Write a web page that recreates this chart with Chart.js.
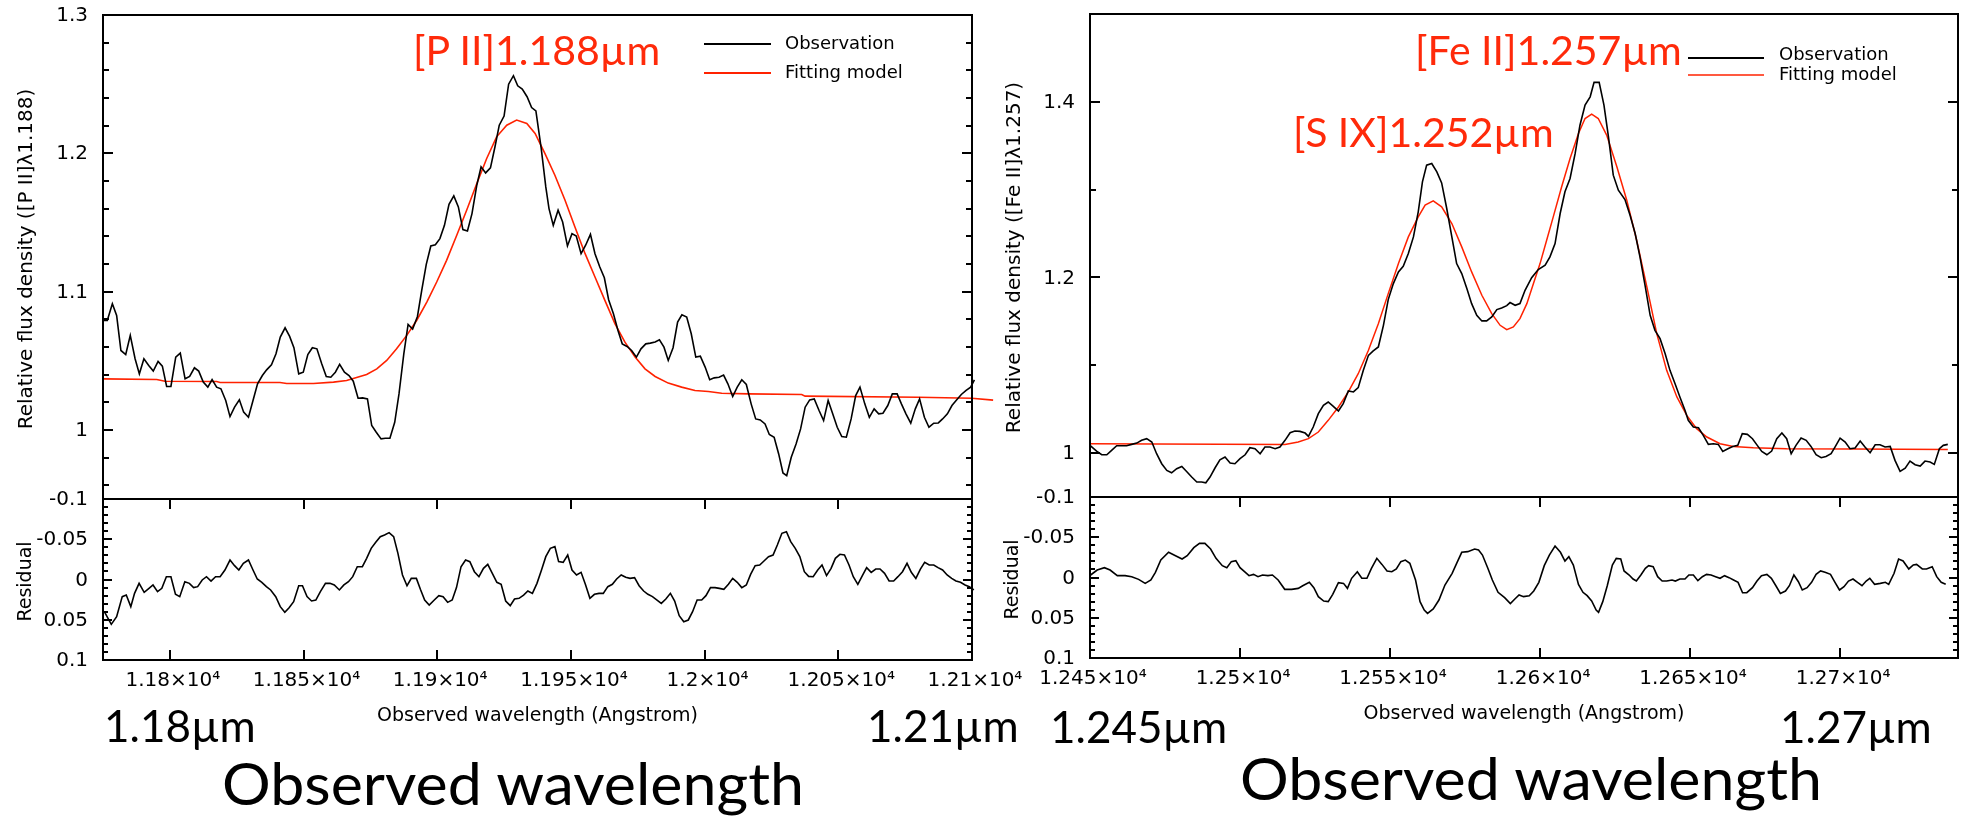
<!DOCTYPE html>
<html>
<head>
<meta charset="utf-8">
<script src="https://cdn.jsdelivr.net/npm/chart.js@4.4.1/dist/chart.umd.min.js"></script>
<style>
  html, body { margin: 0; padding: 0; background: #fff; }
  #page { position: relative; width: 1968px; height: 819px; overflow: hidden; background: #fff; }
  #page canvas { position: absolute; left: 0; top: 0; }
  .txt { position: absolute; margin: 0; white-space: nowrap; line-height: 1.2;
         font-family: Lato, "Open Sans", sans-serif; color: #000; transform-origin: 0 0; }
  .line-id { font-size: 41px; color: #ff2a0a; }
  .um { font-size: 44px; }
  .wl { font-size: 58px; transform: scaleX(1.05); }
</style>
</head>
<body>
<div id="page">
  <canvas id="leftMain" width="1968" height="819"></canvas>
  <canvas id="leftRes" width="1968" height="819"></canvas>
  <canvas id="rightMain" width="1968" height="819"></canvas>
  <canvas id="rightRes" width="1968" height="819"></canvas>

  <div class="txt line-id" style="left:413px; top:25px;">[P II]1.188µm</div>
  <div class="txt line-id" style="left:1415px; top:25px;">[Fe II]1.257µm</div>
  <div class="txt line-id" style="left:1293px; top:107px;">[S IX]1.252µm</div>

  <div class="txt um" style="left:104px; top:699px;">1.18µm</div>
  <div class="txt um" style="left:867px; top:699px;">1.21µm</div>
  <div class="txt um" style="left:1050px; top:700px;">1.245µm</div>
  <div class="txt um" style="left:1780px; top:700px;">1.27µm</div>
  <div class="txt wl" style="left:222px; top:748px;">Observed wavelength</div>
  <div class="txt wl" style="left:1240px; top:743px;">Observed wavelength</div>
</div>

<script>
// ---- [P II] 1.188um panel (wavelength in Angstrom, relative flux) ----
const leftObsWave = [11775.1,11776.6,11778.5,11780.1,11781.7,11783.5,11785.2,11787.0,11788.6,11790.3,
  11792.1,11793.8,11795.6,11797.2,11798.8,11800.4,11802.2,11803.9,11805.7,11807.4,
  11809.2,11810.8,11812.5,11814.2,11815.8,11817.5,11819.1,11820.9,11822.5,11824.2,
  11826.0,11827.6,11829.4,11831.1,11832.8,11834.6,11836.2,11838.0,11839.7,11841.3,
  11843.1,11844.8,11846.4,11848.2,11849.9,11851.6,11853.3,11855.0,11856.8,11858.5,
  11860.2,11861.9,11863.5,11865.3,11867.0,11868.6,11870.4,11872.1,11873.9,11875.5,
  11877.2,11879.0,11880.6,11882.3,11884.1,11885.7,11887.5,11889.1,11890.8,11892.6,
  11894.2,11895.9,11897.6,11899.3,11901.0,11902.7,11904.4,11906.2,11907.9,11909.6,
  11911.3,11913.0,11914.8,11916.4,11918.1,11919.9,11921.6,11923.2,11925.0,11926.7,
  11928.5,11930.1,11931.8,11933.6,11935.3,11936.9,
  11938.9,11940.6,11941.8,11943.4,11945.2,11946.9,11948.7,11950.4,11952.0,11953.8,
  11955.5,11957.3,11959.0,11960.8,11962.5,11964.1,11965.9,11967.6,11969.2,11971.0,
  11972.7,11974.5,11976.2,11978.0,11979.7,11981.5,11983.1,11984.8,11986.4,11988.2,
  11989.9,11991.5,11993.3,11995.0,11996.7,11998.4,12000.2,12001.9,12003.6,12005.4,
  12007.1,12008.7,12010.5,12012.2,12013.9,12015.6,12017.4,12019.1,12020.8,12022.6,
  12024.2,12026.0,12027.7,12029.3,12030.7,12032.4,12034.2,12035.9,12037.6,12039.3,
  12041.0,12042.8,12044.5,12046.2,12047.9,12049.6,12051.3,12053.0,12054.8,12056.5,
  12058.1,12059.9,12061.6,12063.4,12065.1,12066.7,12068.5,12070.2,12072.0,12073.6,
  12075.3,12077.1,12078.8,12080.4,12082.2,12083.9,12085.7,12087.4,12089.0,12090.8,
  12092.5,12094.3,12096.0,12097.8,12099.5,12100.9,12104.0,12106.0,12107.9];
const leftObsFlux = [1.0791,1.0791,1.0912,1.0828,1.0574,1.0545,1.0683,1.0514,1.0405,1.0514,
  1.0466,1.0425,1.0495,1.0461,1.0314,1.0314,1.0526,1.0555,1.0369,1.0386,
  1.0449,1.0425,1.0345,1.0309,1.0364,1.0309,1.0297,1.0212,1.0096,1.0164,
  1.0217,1.0128,1.0091,1.0212,1.0333,1.0393,1.0434,1.0470,1.0550,1.0671,
  1.0738,1.0676,1.0594,1.0405,1.0417,1.0545,1.0594,1.0586,1.0478,1.0386,
  1.0381,1.0417,1.0473,1.0417,1.0393,1.0352,1.0229,1.0231,1.0224,1.0031,
  0.9983,0.9935,0.9939,0.9939,1.0055,1.0260,1.0550,1.0762,1.0729,1.0820,
  1.1009,1.1197,1.1330,1.1339,1.1383,1.1479,1.1631,1.1692,1.1612,1.1448,
  1.1438,1.1564,1.1769,1.1902,1.1858,1.1895,1.2047,1.2203,1.2269,1.2500,
  1.2561,1.2488,1.2464,1.2409,1.2331,1.2307,
  1.2034,1.1757,1.1600,1.1479,1.1588,1.1503,1.1330,1.1419,1.1402,1.1274,
  1.1335,1.1414,1.1274,1.1178,1.1100,1.0941,1.0840,1.0719,1.0622,1.0603,
  1.0574,1.0526,1.0586,1.0622,1.0627,1.0635,1.0651,1.0598,1.0502,1.0594,
  1.0779,1.0832,1.0816,1.0695,1.0526,1.0533,1.0454,1.0362,1.0376,1.0381,
  1.0396,1.0333,1.0241,1.0309,1.0362,1.0328,1.0188,1.0079,1.0072,1.0043,
  0.9966,0.9947,0.9826,0.9688,0.9669,0.9802,0.9898,1.0007,1.0164,1.0217,
  1.0224,1.0140,1.0067,1.0212,1.0116,1.0019,0.9951,0.9947,1.0079,1.0248,
  1.0309,1.0188,1.0091,1.0152,1.0116,1.0120,1.0176,1.0260,1.0260,1.0188,
  1.0116,1.0048,1.0152,1.0224,1.0091,1.0019,1.0048,1.0050,1.0079,1.0116,
  1.0176,1.0217,1.0256,1.0285,1.0309,1.0362,1.0261,1.0345,1.0372];

const leftFitWave = [11775.1,11795.1,11798.2,11817.5,11818.8,11841.2,11843.7,11853.7,11861.2,11866.1,
  11871.1,11873.6,11877.4,11881.1,11884.8,11888.6,11892.3,11896.1,11899.8,11903.5,
  11907.3,11911.0,11914.8,11918.5,11922.2,11926.0,11929.7,11933.5,11936.6,11940.3,
  11944.0,11947.8,11951.5,11955.3,11959.0,11962.7,11966.5,11970.2,11974.0,11977.7,
  11981.5,11986.4,11991.4,11996.4,12001.4,12006.4,12016.4,12036.3,12037.6,12079.9,
  12099.9,12107.9];
const leftFitFlux = [1.0369,1.0364,1.0352,1.0350,1.0342,1.0342,1.0335,1.0335,1.0345,1.0357,
  1.0386,1.0400,1.0441,1.0502,1.0586,1.0683,1.0791,1.0924,1.1069,1.1226,
  1.1407,1.1588,1.1781,1.1962,1.2119,1.2203,1.2240,1.2216,1.2143,1.1998,
  1.1841,1.1660,1.1467,1.1274,1.1105,1.0936,1.0767,1.0634,1.0526,1.0441,
  1.0386,1.0338,1.0309,1.0285,1.0277,1.0265,1.0260,1.0256,1.0244,1.0236,
  1.0229,1.0215];

const leftResWave = [11775.5,11778.1,11780.1,11782.2,11783.7,11785.4,11786.8,11788.5,11790.4,11792.2,
  11793.7,11795.4,11797.0,11798.7,11800.4,11802.1,11803.7,11805.6,11807.3,11808.9,
  11810.4,11812.1,11813.7,11815.4,11817.1,11818.8,11820.6,11822.5,11824.2,11825.8,
  11827.5,11829.4,11831.1,11832.7,11834.4,11836.1,11837.7,11839.6,11841.3,11843.0,
  11844.6,11846.3,11848.2,11849.6,11851.3,11853.0,11854.6,11856.3,11858.2,11859.9,
  11861.5,11863.4,11865.1,11866.8,11868.4,11870.1,11872.0,11873.6,11875.3,11877.0,
  11878.7,11880.3,11882.0,11883.7,11885.3,11887.0,11888.7,11890.3,11892.2,11893.7,
  11895.3,11897.0,11898.9,11900.6,11902.2,11903.9,11905.6,11907.2,11908.9,11910.6,
  11912.2,11913.9,11915.6,11917.3,11918.9,11920.6,11922.3,11923.9,11925.6,11927.3,
  11928.9,11930.6,11932.3,11933.9,11935.6,11937.3,11939.0,11940.6,11942.3,11944.0,
  11945.4,11947.1,11948.8,11950.4,11952.1,11953.8,11955.4,11957.1,11958.8,11960.5,
  11962.1,11963.8,11965.5,11967.1,11968.8,11970.5,11972.1,11973.8,11975.5,11977.2,
  11978.8,11980.5,11982.2,11983.8,11985.5,11987.2,11988.8,11990.5,11992.2,11993.9,
  11995.5,11997.2,11998.9,12000.5,12002.2,12003.9,12005.5,12007.2,12008.9,12010.5,
  12012.2,12013.9,12015.6,12017.2,12018.9,12020.6,12022.2,12023.9,12025.6,12027.2,
  12028.9,12030.6,12032.2,12033.9,12035.6,12037.3,12038.9,12040.6,12042.3,12043.9,
  12045.6,12047.3,12048.9,12050.6,12052.3,12054.0,12055.6,12057.3,12059.0,12060.6,
  12062.3,12064.0,12065.6,12067.3,12069.0,12070.7,12072.3,12074.0,12075.7,12077.3,
  12079.0,12080.7,12082.3,12084.0,12085.7,12087.3,12089.0,12090.7,12092.4,12094.0,
  12095.7,12097.4,12099.0,12100.7,12103.7,12107.3];
const leftResVal = [0.0400,0.0557,0.0462,0.0213,0.0193,0.0337,0.0172,0.0048,0.0159,0.0110,
  0.0068,0.0151,0.0110,-0.0035,-0.0035,0.0184,0.0213,0.0027,0.0048,0.0101,
  0.0089,0.0006,-0.0035,0.0019,-0.0035,-0.0035,-0.0118,-0.0242,-0.0172,-0.0118,
  -0.0201,-0.0242,-0.0118,-0.0006,0.0035,0.0089,0.0130,0.0213,0.0337,0.0408,
  0.0350,0.0275,0.0077,0.0077,0.0213,0.0267,0.0255,0.0151,0.0048,0.0048,
  0.0068,0.0130,0.0068,0.0027,-0.0035,-0.0159,-0.0159,-0.0263,-0.0387,-0.0462,
  -0.0532,-0.0553,-0.0582,-0.0532,-0.0325,-0.0056,0.0077,-0.0014,-0.0014,0.0122,
  0.0255,0.0317,0.0255,0.0201,0.0213,0.0284,0.0255,0.0101,-0.0159,-0.0242,
  -0.0222,-0.0097,-0.0035,-0.0139,-0.0188,-0.0077,0.0035,0.0060,0.0267,0.0325,
  0.0242,0.0234,0.0193,0.0143,0.0172,0.0048,-0.0118,-0.0284,-0.0387,-0.0408,
  -0.0222,-0.0213,-0.0304,-0.0118,-0.0056,-0.0089,0.0060,0.0234,0.0184,0.0172,
  0.0172,0.0089,0.0060,-0.0006,-0.0056,-0.0027,-0.0014,-0.0023,0.0077,0.0143,
  0.0184,0.0213,0.0255,0.0296,0.0242,0.0172,0.0267,0.0449,0.0524,0.0503,
  0.0400,0.0255,0.0255,0.0201,0.0101,0.0101,0.0110,0.0122,0.0060,-0.0014,
  0.0035,0.0101,0.0068,-0.0064,-0.0172,-0.0180,-0.0230,-0.0284,-0.0304,-0.0429,
  -0.0574,-0.0594,-0.0470,-0.0387,-0.0284,-0.0097,-0.0039,-0.0035,-0.0118,-0.0180,
  -0.0048,-0.0139,-0.0263,-0.0313,-0.0304,-0.0180,-0.0035,0.0060,-0.0048,-0.0147,
  -0.0089,-0.0130,-0.0130,-0.0077,0.0019,0.0019,-0.0035,-0.0097,-0.0201,-0.0089,
  -0.0014,-0.0130,-0.0213,-0.0180,-0.0180,-0.0147,-0.0118,-0.0056,-0.0014,0.0019,
  0.0035,0.0068,0.0089,0.0130,0.0027,0.0130];

// ---- [Fe II] 1.257um / [S IX] 1.252um panel ----
const rightObsWave = [12450.0,12452.2,12453.9,12455.6,12457.2,12458.9,12460.6,12462.2,12463.9,12465.6,
  12467.2,12468.9,12470.6,12472.2,12473.9,12475.6,12477.2,12478.9,12480.6,12482.2,
  12483.9,12485.6,12487.2,12488.6,12490.0,12491.7,12493.3,12495.0,12496.7,12498.3,
  12500.0,12501.7,12503.3,12505.0,12506.7,12508.3,12510.0,12511.7,12513.3,12515.0,
  12516.7,12518.3,12520.0,12521.7,12522.8,12524.4,12526.1,12527.8,12529.4,12531.1,
  12532.8,12534.4,12536.1,12537.8,12539.4,12541.1,12542.8,12544.4,12546.1,12547.8,
  12549.4,12551.1,12552.8,12554.4,12556.1,12557.8,12559.4,12560.8,12562.2,12563.9,
  12565.6,12567.2,12568.9,12570.6,12572.2,12573.9,12575.6,12577.2,12578.9,12580.6,
  12582.2,12583.9,12585.6,12587.2,12588.9,12590.0,12591.7,12593.3,12595.0,
  12597.2,12599.4,12601.7,12603.3,12605.0,12606.7,12608.3,12610.0,12611.7,12613.3,
  12615.0,12616.7,12618.0,12619.7,12621.3,12622.8,12624.4,12626.1,12628.3,12630.0,
  12631.7,12633.3,12635.0,12636.7,12638.3,12640.0,12641.7,12643.3,12645.0,12646.7,
  12648.3,12649.4,12651.1,12652.8,12654.4,12656.1,12657.8,12659.4,12660.9,12662.6,
  12664.2,12665.9,12667.4,12669.1,12670.8,12672.4,12673.9,12675.6,12677.2,12678.9,
  12680.6,12682.2,12683.7,12685.3,12687.0,12688.7,12690.3,12692.0,12693.7,12695.3,
  12697.0,12698.3,12700.0,12701.7,12703.3,12705.0,12706.7,12708.3,12710.0,12711.7,
  12713.3,12715.0,12716.7,12718.3,12720.0,12721.7,12723.3,12725.0,12726.7,12728.3,
  12730.0,12731.4,12733.1,12734.4,12735.9];
const rightObsFlux = [1.0088,1.0023,0.9981,0.9981,1.0031,1.0084,1.0084,1.0084,1.0099,1.0114,
  1.0145,1.0164,1.0126,0.9993,0.9879,0.9803,0.9776,0.9822,0.9848,0.9791,
  0.9727,0.9670,0.9670,0.9662,0.9727,0.9833,0.9924,0.9955,0.9886,0.9879,
  0.9936,0.9981,1.0061,1.0050,0.9993,1.0069,1.0069,1.0050,1.0069,1.0145,
  1.0232,1.0251,1.0247,1.0228,1.0190,1.0297,1.0449,1.0544,1.0582,1.0532,
  1.0479,1.0563,1.0707,1.0696,1.0745,1.0942,1.1113,1.1163,1.1208,1.1455,
  1.1748,1.1930,1.2063,1.2128,1.2272,1.2462,1.2747,1.3089,1.3279,1.3298,
  1.3203,1.3077,1.2785,1.2462,1.2158,1.2044,1.1873,1.1702,1.1569,1.1505,
  1.1505,1.1550,1.1634,1.1653,1.1679,1.1714,1.1683,1.1702,1.1854,
  1.1998,1.2090,1.2139,1.2234,1.2386,1.2728,1.2975,1.3127,1.3412,1.3734,
  1.3962,1.4057,1.4221,1.4221,1.3962,1.3602,1.3165,1.2994,1.2887,1.2709,
  1.2500,1.2234,1.1911,1.1569,1.1398,1.1303,1.1132,1.0942,1.0790,1.0631,
  1.0487,1.0373,1.0297,1.0289,1.0202,1.0099,1.0107,1.0099,1.0019,1.0050,
  1.0076,1.0088,1.0221,1.0213,1.0164,1.0088,1.0019,0.9981,1.0023,1.0164,
  1.0228,1.0164,0.9993,1.0088,1.0171,1.0145,1.0076,0.9981,0.9947,0.9962,
  0.9993,1.0069,1.0171,1.0126,1.0050,1.0057,1.0137,1.0069,1.0004,1.0095,
  1.0095,1.0069,1.0076,0.9917,0.9791,0.9829,0.9909,0.9867,0.9852,0.9909,
  0.9898,0.9871,1.0050,1.0088,1.0099];

const rightFitWave = [12450.0,12515.0,12519.4,12522.8,12526.1,12529.4,12532.8,12536.1,12539.4,12542.8,
  12546.1,12549.4,12552.8,12556.1,12559.4,12561.7,12564.4,12567.2,12570.6,12573.9,
  12577.2,12580.6,12583.9,12586.7,12588.9,12591.1,12593.3,12595.6,12597.8,12600.0,
  12602.2,12604.4,12607.2,12610.0,12612.8,12615.0,12617.2,12619.4,12622.2,12625.6,
  12628.9,12632.2,12635.6,12638.9,12642.2,12645.6,12648.9,12652.2,12655.6,12660.0,
  12664.4,12671.1,12682.2,12704.4,12735.9];
const rightFitFlux = [1.0107,1.0099,1.0126,1.0164,1.0240,1.0373,1.0525,1.0696,1.0904,1.1170,
  1.1474,1.1816,1.2158,1.2462,1.2690,1.2823,1.2872,1.2804,1.2614,1.2348,
  1.2063,1.1797,1.1588,1.1455,1.1406,1.1436,1.1531,1.1702,1.1930,1.2158,
  1.2424,1.2690,1.3032,1.3355,1.3640,1.3810,1.3860,1.3810,1.3621,1.3260,
  1.2880,1.2424,1.1892,1.1360,1.0942,1.0639,1.0430,1.0278,1.0183,1.0107,
  1.0076,1.0061,1.0050,1.0046,1.0042];

const rightResWave = [12450.2,12452.4,12454.8,12456.7,12459.1,12461.7,12463.9,12466.2,12468.4,12470.3,
  12471.8,12473.6,12476.2,12478.5,12480.7,12482.4,12484.6,12486.5,12488.3,12490.2,
  12492.0,12494.1,12495.6,12497.1,12498.6,12500.0,12501.5,12503.0,12504.5,12506.0,
  12507.5,12509.3,12510.8,12512.7,12514.9,12517.2,12519.4,12520.9,12523.1,12524.6,
  12526.1,12527.9,12529.4,12530.9,12532.8,12534.5,12535.8,12537.2,12539.1,12540.6,
  12542.3,12543.8,12545.6,12547.3,12549.0,12550.6,12552.1,12553.6,12555.1,12556.6,
  12558.5,12560.0,12561.4,12562.5,12564.4,12566.3,12568.3,12570.7,12572.2,12573.9,
  12575.9,12578.2,12579.5,12580.8,12582.6,12584.1,12586.0,12588.2,12590.1,12591.6,
  12593.0,12594.5,12596.4,12597.9,12599.6,12601.4,12603.1,12605.0,12606.8,12608.3,
  12609.6,12611.1,12612.8,12614.3,12615.7,12617.2,12618.7,12619.5,12620.9,12622.4,
  12624.1,12625.4,12626.9,12628.0,12629.7,12631.0,12632.1,12633.6,12635.1,12636.2,
  12637.7,12639.2,12640.7,12642.2,12644.0,12645.1,12646.6,12648.3,12649.6,12651.1,
  12652.6,12654.1,12655.5,12657.0,12658.5,12660.0,12661.5,12663.0,12664.5,12666.0,
  12667.5,12668.9,12670.8,12672.3,12673.8,12675.6,12677.1,12678.6,12680.1,12681.8,
  12683.1,12684.6,12686.1,12687.4,12689.0,12690.5,12692.0,12693.5,12695.0,12696.8,
  12698.3,12699.8,12701.3,12702.8,12704.3,12705.8,12707.3,12708.7,12709.9,12711.5,
  12713.4,12715.1,12716.2,12718.0,12719.5,12721.0,12722.9,12724.4,12725.5,12727.4,
  12728.8,12730.7,12732.2,12733.7,12735.2];
const rightResVal = [-0.0031,-0.0093,-0.0122,-0.0093,-0.0023,-0.0023,-0.0010,0.0023,0.0073,0.0031,
  -0.0064,-0.0217,-0.0313,-0.0271,-0.0230,-0.0271,-0.0371,-0.0424,-0.0424,-0.0354,
  -0.0238,-0.0147,-0.0122,-0.0197,-0.0209,-0.0122,-0.0072,-0.0023,-0.0039,-0.0010,
  -0.0031,-0.0023,-0.0031,0.0031,0.0147,0.0147,0.0135,0.0102,0.0060,0.0126,
  0.0238,0.0292,0.0300,0.0209,0.0064,0.0073,0.0135,0.0010,-0.0072,0.0010,
  0.0010,-0.0114,-0.0238,-0.0163,-0.0081,-0.0072,-0.0106,-0.0197,-0.0217,-0.0176,
  0.0031,0.0300,0.0404,0.0445,0.0391,0.0280,0.0093,-0.0052,-0.0176,-0.0313,
  -0.0321,-0.0354,-0.0342,-0.0279,-0.0114,0.0031,0.0184,0.0251,0.0325,0.0267,
  0.0217,0.0238,0.0226,0.0168,0.0060,-0.0147,-0.0279,-0.0391,-0.0313,-0.0205,
  -0.0259,-0.0155,0.0085,0.0184,0.0226,0.0292,0.0404,0.0433,0.0300,0.0102,
  -0.0155,-0.0238,-0.0230,-0.0081,-0.0031,0.0019,0.0044,-0.0031,-0.0114,-0.0147,
  -0.0134,-0.0010,0.0044,0.0044,0.0031,0.0044,0.0019,0.0019,-0.0031,-0.0031,
  0.0039,-0.0010,-0.0039,-0.0031,-0.0010,0.0010,-0.0023,0.0002,0.0031,0.0060,
  0.0189,0.0189,0.0126,0.0044,-0.0023,-0.0039,0.0010,0.0102,0.0197,0.0168,
  0.0102,-0.0031,0.0052,0.0155,0.0126,0.0060,-0.0039,-0.0081,-0.0064,-0.0039,
  0.0060,0.0155,0.0114,0.0044,0.0019,0.0060,0.0102,0.0044,0.0010,0.0085,
  0.0073,0.0060,0.0085,-0.0052,-0.0230,-0.0205,-0.0106,-0.0155,-0.0163,-0.0106,
  -0.0106,-0.0134,-0.0010,0.0060,0.0085];

// ---- axis ticks and labels ----
const leftFluxMinor = [0.96,0.98,1.02,1.04,1.06,1.08,1.12,1.14,1.16,1.18,1.22,1.24,1.26,1.28];
const leftFluxMajor = [1.0,1.1,1.2];
const leftFluxLabelVals = [1.0,1.1,1.2,1.3];
const leftFluxLabels = ['1','1.1','1.2','1.3'];

const rightFluxMinor = [1.1,1.3];
const rightFluxMajor = [1.0,1.2,1.4];
const rightFluxLabelVals = [1.0,1.2,1.4];
const rightFluxLabels = ['1','1.2','1.4'];

const resMinor = [-0.09,-0.08,-0.07,-0.06,-0.04,-0.03,-0.02,-0.01,0.01,0.02,0.03,0.04,0.06,0.07,0.08,0.09];
const resMajor = [-0.05,0,0.05];
const resLabelVals = [-0.1,-0.05,0,0.05,0.1];
const resLabels = ['-0.1','-0.05','0','0.05','0.1'];

const leftWaveTicks = [11800,11850,11900,11950,12000,12050,12100];
const leftWaveLabels = ['1.18×10⁴','1.185×10⁴','1.19×10⁴','1.195×10⁴','1.2×10⁴','1.205×10⁴','1.21×10⁴'];
const rightWaveTicks = [12450,12500,12550,12600,12650,12700];
const rightWaveLabels = ['1.245×10⁴','1.25×10⁴','1.255×10⁴','1.26×10⁴','1.265×10⁴','1.27×10⁴'];

const RED = '#ff2200';
const TICK_FONT = '20px "DejaVu Sans", sans-serif';
const TITLE_FONT = '19px "DejaVu Sans", sans-serif';

const pairs = (xs, ys) => xs.map((x, i) => ({ x: x, y: ys[i] }));

// frame, inward ticks, tick labels, titles and legend for one panel
const plotFrame = {
  id: 'plotFrame',
  afterDraw(chart, args, o) {
    const { ctx, chartArea: a } = chart;
    const xs = chart.scales.x, ys = chart.scales.y;
    ctx.save();
    ctx.strokeStyle = '#000';
    ctx.lineWidth = 2;
    ctx.strokeRect(a.left, a.top, a.right - a.left, a.bottom - a.top);

    ctx.beginPath();
    const yTick = (v, len) => {
      const p = Math.round(ys.getPixelForValue(v));
      ctx.moveTo(a.left, p); ctx.lineTo(a.left + len, p);
      ctx.moveTo(a.right, p); ctx.lineTo(a.right - len, p);
    };
    o.yMinor.forEach(v => yTick(v, o.minorLen));
    o.yMajor.forEach(v => yTick(v, o.majorLen));
    (o.xTicks || []).forEach(v => {
      const p = Math.round(xs.getPixelForValue(v));
      ctx.moveTo(p, a.top); ctx.lineTo(p, a.top + 10);
      ctx.moveTo(p, a.bottom); ctx.lineTo(p, a.bottom - 10);
    });
    ctx.stroke();

    ctx.fillStyle = '#000';
    ctx.font = TICK_FONT;
    ctx.textAlign = 'right';
    ctx.textBaseline = 'middle';
    o.yLabelVals.forEach((v, i) => ctx.fillText(o.yLabels[i], a.left - 15, ys.getPixelForValue(v) + 1));

    if (o.xTicks) {
      ctx.textAlign = 'center';
      ctx.textBaseline = 'alphabetic';
      o.xTicks.forEach((v, i) => ctx.fillText(o.xLabels[i], xs.getPixelForValue(v) + 3, a.bottom + 26));
      ctx.font = TITLE_FONT;
      ctx.fillText(o.xTitle, (a.left + a.right) / 2, a.bottom + 61);
    }

    ctx.font = o.yTitleFont || TITLE_FONT;
    ctx.save();
    ctx.translate(o.yTitleX, (a.top + a.bottom) / 2 + 2);
    ctx.rotate(-Math.PI / 2);
    ctx.textAlign = 'center';
    ctx.textBaseline = 'middle';
    ctx.fillText(o.yTitle, 0, 0);
    ctx.restore();

    (o.legend || []).forEach(item => {
      ctx.strokeStyle = item.color;
      ctx.lineWidth = item.width;
      ctx.beginPath();
      ctx.moveTo(item.x1, item.y); ctx.lineTo(item.x2, item.y);
      ctx.stroke();
      ctx.font = '18px "DejaVu Sans", sans-serif';
      ctx.fillStyle = '#000';
      ctx.textAlign = 'left';
      ctx.textBaseline = 'middle';
      ctx.fillText(item.text, item.tx, item.ty);
    });
    ctx.restore();
  }
};

function spectrumChart(id, datasets, xRange, yRange, reverse, padding, frame) {
  return new Chart(document.getElementById(id), {
    type: 'line',
    data: { datasets: datasets },
    options: {
      responsive: false,
      animation: false,
      devicePixelRatio: 1,
      layout: { padding: padding },
      elements: { point: { radius: 0 }, line: { tension: 0 } },
      scales: {
        x: { type: 'linear', min: xRange[0], max: xRange[1], display: false },
        y: { type: 'linear', min: yRange[0], max: yRange[1], reverse: reverse, display: false }
      },
      plugins: { legend: { display: false }, tooltip: { enabled: false }, plotFrame: frame }
    },
    plugins: [plotFrame]
  });
}

const line = (data, color, width, clip) => ({
  data: data, borderColor: color, borderWidth: width, fill: false, clip: clip
});

// left panel
spectrumChart('leftMain',
  [line(pairs(leftObsWave, leftObsFlux), '#000', 1.6, false),
   line(pairs(leftFitWave, leftFitFlux), RED, 1.6, false)],
  [11775, 12100], [0.95, 1.3], false,
  { left: 103, top: 15, right: 996, bottom: 320 },
  { yMinor: leftFluxMinor, yMajor: leftFluxMajor, minorLen: 6, majorLen: 10,
    yLabelVals: leftFluxLabelVals, yLabels: leftFluxLabels,
    yTitle: 'Relative flux density ([P II]λ1.188)', yTitleX: 27,
    yTitleFont: '20px "DejaVu Sans", sans-serif',
    legend: [
      { x1: 704, x2: 771, y: 44, color: '#000', width: 2, text: 'Observation', tx: 785, ty: 44 },
      { x1: 704, x2: 771, y: 73, color: RED, width: 2, text: 'Fitting model', tx: 785, ty: 73 }
    ] });

spectrumChart('leftRes',
  [line(pairs(leftResWave, leftResVal), '#000', 1.6, false)],
  [11775, 12100], [-0.1, 0.1], true,
  { left: 103, top: 499, right: 996, bottom: 159 },
  { yMinor: resMinor, yMajor: resMajor, minorLen: 5, majorLen: 9,
    yLabelVals: resLabelVals, yLabels: resLabels,
    xTicks: leftWaveTicks, xLabels: leftWaveLabels,
    xTitle: 'Observed wavelength (Angstrom)',
    yTitle: 'Residual', yTitleX: 26 });

// right panel
spectrumChart('rightMain',
  [line(pairs(rightObsWave, rightObsFlux), '#000', 1.6, true),
   line(pairs(rightFitWave, rightFitFlux), RED, 1.5, true)],
  [12450, 12739.3], [0.95, 1.5], false,
  { left: 1090, top: 14, right: 10, bottom: 322 },
  { yMinor: rightFluxMinor, yMajor: rightFluxMajor, minorLen: 6, majorLen: 10,
    yLabelVals: rightFluxLabelVals, yLabels: rightFluxLabels,
    yTitle: 'Relative flux density ([Fe II]λ1.257)', yTitleX: 1015,
    yTitleFont: '20px "DejaVu Sans", sans-serif',
    legend: [
      { x1: 1688, x2: 1764, y: 58, color: '#000', width: 2, text: 'Observation', tx: 1779, ty: 55 },
      { x1: 1688, x2: 1764, y: 75, color: RED, width: 1.5, text: 'Fitting model', tx: 1779, ty: 75 }
    ] });

spectrumChart('rightRes',
  [line(pairs(rightResWave, rightResVal), '#000', 1.6, true)],
  [12450, 12739.3], [-0.1, 0.1], true,
  { left: 1090, top: 497, right: 10, bottom: 161 },
  { yMinor: resMinor, yMajor: resMajor, minorLen: 5, majorLen: 9,
    yLabelVals: resLabelVals, yLabels: resLabels,
    xTicks: rightWaveTicks, xLabels: rightWaveLabels,
    xTitle: 'Observed wavelength (Angstrom)',
    yTitle: 'Residual', yTitleX: 1013 });
</script>
</body>
</html>
